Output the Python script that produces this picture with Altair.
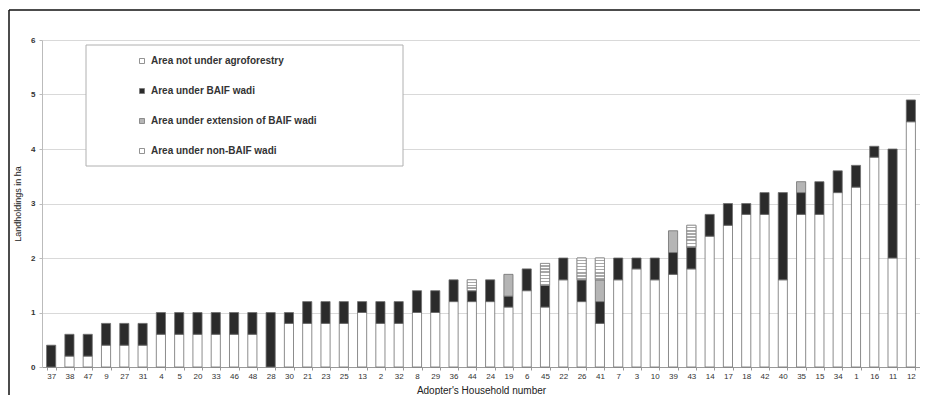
import altair as alt
import pandas as pd

households = ["37","38","47","9","27","31","4","5","20","33","46","48","28","30","21","23",
              "25","13","2","32","8","29","36","44","24","19","6","45","22","26","41","7",
              "3","10","39","43","14","17","18","42","40","35","15","34","1","16","11","12"]

not_agro = [0,0.2,0.2,0.4,0.4,0.4,0.6,0.6,0.6,0.6,0.6,0.6,0,0.8,0.8,0.8,
            0.8,1.0,0.8,0.8,1.0,1.0,1.2,1.2,1.2,1.1,1.4,1.1,1.6,1.2,0.8,1.6,
            1.8,1.6,1.7,1.8,2.4,2.6,2.8,2.8,1.6,2.8,2.8,3.2,3.3,3.85,2.0,4.5]
baif = [0.4,0.4,0.4,0.4,0.4,0.4,0.4,0.4,0.4,0.4,0.4,0.4,1.0,0.2,0.4,0.4,
        0.4,0.2,0.4,0.4,0.4,0.4,0.4,0.2,0.4,0.2,0.4,0.4,0.4,0.4,0.4,0.4,
        0.2,0.4,0.4,0.4,0.4,0.4,0.2,0.4,1.6,0.4,0.6,0.4,0.4,0.2,2.0,0.4]
ext = [0]*48
nonbaif = [0]*48
for h, v in {"19": 0.4, "41": 0.4, "39": 0.4, "35": 0.2}.items():
    ext[households.index(h)] = v
for h, v in {"44": 0.2, "45": 0.4, "26": 0.4, "41": 0.4, "43": 0.4}.items():
    nonbaif[households.index(h)] = v

categories = ["Area not under agroforestry", "Area under BAIF wadi",
              "Area under extension of BAIF wadi", "Area under non-BAIF wadi"]
series = [not_agro, baif, ext, nonbaif]
colors = ["#ffffff", "#2b2b2b", "#b5b5b5", "#ffffff"]

rows = []
for ci, (cat, vals) in enumerate(zip(categories, series)):
    for h, v in zip(households, vals):
        rows.append({"household": h, "category": cat, "value": v, "order": ci})
df = pd.DataFrame(rows)

FONT = "Liberation Sans, Arial, sans-serif"

xenc = alt.X("household:N", sort=households,
             scale=alt.Scale(paddingInner=0.5, paddingOuter=0.25),
             axis=alt.Axis(labelAngle=0, labelFontSize=8, labelColor="#333", labelFont=FONT,
                           domainColor="#999", tickColor="#999", tickSize=3, tickBand="extent",
                           labelPadding=2, title="Adopter's Household number", titleFont=FONT,
                           titleFontSize=10, titleFontWeight="normal", titleColor="#222",
                           titlePadding=5, grid=False))
yenc = alt.Y("y0:Q", scale=alt.Scale(domain=[0, 6], nice=False),
             axis=alt.Axis(values=[0, 1, 2, 3, 4, 5, 6], labelFontSize=8, labelFontWeight="bold",
                           labelColor="#333", labelFont=FONT, domainColor="#bbb", tickColor="#bbb",
                           tickSize=3, labelPadding=4, gridColor="#d9d9d9",
                           title="Landholdings in ha", titleFont=FONT, titleFontSize=9,
                           titleFontWeight="normal", titleColor="#222", titlePadding=8))

base = alt.Chart(df).transform_stack(
    stack="value", as_=["y0", "y1"], groupby=["household"],
    sort=[alt.SortField("order", order="ascending")]
).transform_filter(alt.datum.value > 0)

bars = base.mark_bar(stroke="#6e6e6e", strokeWidth=0.8).encode(
    x=xenc,
    y=yenc,
    y2="y1:Q",
    color=alt.Color("category:N", sort=categories,
                    scale=alt.Scale(domain=categories, range=colors),
                    legend=alt.Legend(orient="none", legendX=95, legendY=16, title=None,
                                      symbolType="square", symbolSize=25,
                                      symbolStrokeColor="#777", symbolStrokeWidth=0.8,
                                      labelFont=FONT, labelFontSize=10, labelFontWeight="bold",
                                      labelColor="#333", rowPadding=20, labelOffset=4,
                                      labelLimit=400)),
)

n = 7
stops = []
for k in range(n):
    a = k / n
    b = (k + 0.55) / n
    c = (k + 1) / n
    stops += [alt.GradientStop(offset=a, color="#ffffff"),
              alt.GradientStop(offset=b, color="#ffffff"),
              alt.GradientStop(offset=b, color="#a8a8a8"),
              alt.GradientStop(offset=c, color="#a8a8a8")]
hatch_fill = alt.LinearGradient(gradient="linear", stops=stops, x1=0, x2=0, y1=0, y2=1)

hatched = base.transform_filter(
    alt.datum.category == "Area under non-BAIF wadi"
).mark_bar(fill=hatch_fill, stroke="#8a8a8a", strokeWidth=0.8).encode(
    x=xenc, y=yenc, y2="y1:Q"
)

one = pd.DataFrame({"k": [0]})
legend_box = alt.Chart(one).mark_rect(fill="#ffffff", stroke="#b0b0b0", strokeWidth=1).encode(
    x=alt.value(44), x2=alt.value(361), y=alt.value(5), y2=alt.value(126)
)
frame_top = alt.Chart(one).mark_rule(stroke="#111", strokeWidth=1.5).encode(
    x=alt.value(-33), x2=alt.value(878), y=alt.value(-30)
)
frame_left = alt.Chart(one).mark_rule(stroke="#111", strokeWidth=1.5).encode(
    x=alt.value(-33), y=alt.value(-30), y2=alt.value(355)
)

chart = alt.layer(bars, hatched, legend_box, frame_top, frame_left).properties(
    width=878, height=327,
    autosize=alt.AutoSizeParams(type="none"),
    padding={"left": 34, "top": 32, "right": 0, "bottom": 28},
    background="#ffffff",
).configure_view(stroke=None)

chart.save("out.html", embed_options={"renderer": "svg", "actions": False})
